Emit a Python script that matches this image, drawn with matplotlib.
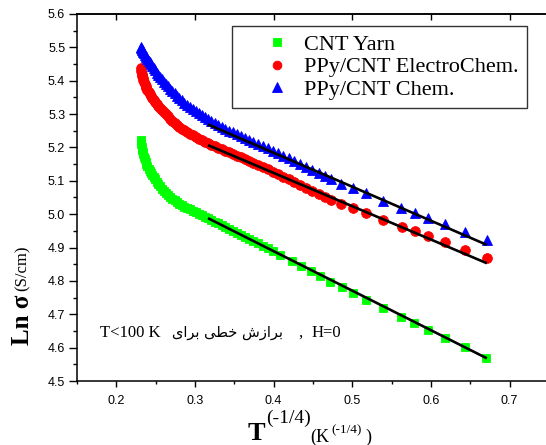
import matplotlib
matplotlib.use('Agg')
import matplotlib.pyplot as plt
from matplotlib.ticker import MultipleLocator, FormatStrFormatter
from matplotlib.font_manager import FontProperties

# ---------------- data ----------------
cnt_x = [0.2310, 0.2315, 0.2320, 0.2326, 0.2333, 0.2341, 0.2350, 0.2360, 0.2371,
         0.2383, 0.2396, 0.2410, 0.2425, 0.2441, 0.2458, 0.2476, 0.2495, 0.2515,
         0.2536, 0.2558, 0.2581, 0.2605, 0.2630, 0.2656, 0.2683, 0.2711, 0.2740,
         0.2770, 0.2801, 0.2833, 0.2866, 0.2900, 0.2935, 0.2971, 0.3008, 0.3046,
         0.3085, 0.3125, 0.3166, 0.3208, 0.3251, 0.3295, 0.3340, 0.3386, 0.3433,
         0.3481, 0.3530, 0.3580, 0.3632, 0.3686, 0.3742, 0.3800, 0.3860, 0.3922,
         0.3986, 0.4080, 0.4230, 0.4350, 0.4480, 0.4590, 0.4710, 0.4870, 0.5010,
         0.5180, 0.5390, 0.5620, 0.5790, 0.5960, 0.6180, 0.6430, 0.6700]
cnt_y = [5.222, 5.211, 5.201, 5.193, 5.186, 5.179, 5.172, 5.164, 5.157,
         5.150, 5.143, 5.136, 5.129, 5.122, 5.116, 5.110, 5.104, 5.097,
         5.090, 5.083, 5.076, 5.070, 5.064, 5.058, 5.052, 5.047, 5.042,
         5.037, 5.032, 5.027, 5.023, 5.019, 5.015, 5.011, 5.006, 5.002,
         4.997, 4.993, 4.988, 4.983, 4.978, 4.973, 4.968, 4.962, 4.957,
         4.951, 4.945, 4.939, 4.933, 4.926, 4.920, 4.913, 4.906, 4.898,
         4.891, 4.878, 4.860, 4.845, 4.829, 4.814, 4.798, 4.781, 4.763,
         4.743, 4.720, 4.693, 4.673, 4.653, 4.630, 4.603, 4.568]

ec_x = [0.2310, 0.2315, 0.2320, 0.2326, 0.2333, 0.2341, 0.2350, 0.2360, 0.2371,
        0.2383, 0.2396, 0.2410, 0.2425, 0.2441, 0.2458, 0.2476, 0.2495, 0.2515,
        0.2536, 0.2558, 0.2581, 0.2605, 0.2630, 0.2656, 0.2683, 0.2711, 0.2740,
        0.2770, 0.2801, 0.2833, 0.2866, 0.2900, 0.2935, 0.2971, 0.3008, 0.3046,
        0.3085, 0.3125, 0.3166, 0.3208, 0.3251, 0.3295, 0.3340, 0.3386, 0.3433,
        0.3481, 0.3530, 0.3580, 0.3632, 0.3686, 0.3742, 0.3800, 0.3860, 0.3922,
        0.3986, 0.4052, 0.4120, 0.4190, 0.4262, 0.4336, 0.4412, 0.4490, 0.4570,
        0.4650, 0.4735, 0.4860, 0.5010, 0.5180, 0.5390, 0.5626, 0.5795, 0.5965,
        0.6177, 0.6430, 0.6710]
ec_y = [5.437, 5.428, 5.420, 5.413, 5.407, 5.401, 5.395, 5.389, 5.383,
        5.377, 5.371, 5.365, 5.359, 5.353, 5.347, 5.341, 5.335, 5.329,
        5.323, 5.317, 5.311, 5.305, 5.299, 5.293, 5.286, 5.280, 5.274,
        5.268, 5.262, 5.256, 5.251, 5.246, 5.241, 5.236, 5.231, 5.226,
        5.221, 5.216, 5.212, 5.207, 5.203, 5.198, 5.194, 5.189, 5.185,
        5.180, 5.175, 5.170, 5.165, 5.159, 5.153, 5.147, 5.141, 5.134,
        5.127, 5.120, 5.112, 5.104, 5.096, 5.088, 5.079, 5.070, 5.060,
        5.051, 5.042, 5.032, 5.018, 5.003, 4.983, 4.962, 4.950, 4.935,
        4.916, 4.893, 4.870]

ch_x = [0.2310, 0.2315, 0.2320, 0.2326, 0.2333, 0.2341, 0.2350, 0.2360, 0.2371,
        0.2383, 0.2396, 0.2410, 0.2425, 0.2441, 0.2458, 0.2476, 0.2495, 0.2515,
        0.2536, 0.2558, 0.2581, 0.2605, 0.2630, 0.2656, 0.2683, 0.2711, 0.2740,
        0.2770, 0.2801, 0.2833, 0.2866, 0.2900, 0.2935, 0.2971, 0.3008, 0.3046,
        0.3085, 0.3125, 0.3166, 0.3208, 0.3251, 0.3295, 0.3340, 0.3386, 0.3433,
        0.3481, 0.3530, 0.3580, 0.3632, 0.3686, 0.3742, 0.3800, 0.3860, 0.3922,
        0.3986, 0.4052, 0.4120, 0.4190, 0.4262, 0.4336, 0.4412, 0.4490, 0.4570,
        0.4650, 0.4735, 0.4860, 0.5010, 0.5180, 0.5390, 0.5617, 0.5795, 0.5965,
        0.6177, 0.6430, 0.6710]
ch_y = [5.500, 5.497, 5.494, 5.491, 5.488, 5.485, 5.482, 5.478, 5.474,
        5.470, 5.465, 5.460, 5.455, 5.449, 5.443, 5.437, 5.431, 5.424,
        5.418, 5.411, 5.404, 5.397, 5.390, 5.383, 5.376, 5.369, 5.362,
        5.355, 5.348, 5.341, 5.334, 5.327, 5.320, 5.314, 5.308, 5.302,
        5.296, 5.290, 5.284, 5.278, 5.272, 5.266, 5.261, 5.256, 5.250,
        5.245, 5.240, 5.235, 5.229, 5.223, 5.217, 5.211, 5.204, 5.197,
        5.190, 5.183, 5.175, 5.167, 5.159, 5.151, 5.142, 5.133, 5.123,
        5.114, 5.104, 5.090, 5.077, 5.062, 5.040, 5.018, 5.004, 4.990,
        4.970, 4.947, 4.923]

fit_x = [0.3165, 0.671]
cnt_fit = [4.988, 4.568]
ec_fit = [5.207, 4.853]
ch_fit = [5.269, 4.908]

labels = ["CNT Yarn", "PPy/CNT ElectroChem.", "PPy/CNT Chem."]
x_ticks = [0.2, 0.3, 0.4, 0.5, 0.6, 0.7]

# ---------------- figure ----------------
W, H = 546, 445
fig = plt.figure(figsize=(W / 100, H / 100), dpi=100)
ax = fig.add_axes([77 / W, 64 / H, 472 / W, 367 / H])

h1, = ax.plot(cnt_x, cnt_y, ls='none', marker='s', ms=5.8, color='#00ff00',
              mec='#00ff00', mew=0.6, zorder=2)
h2, = ax.plot(ec_x, ec_y, ls='none', marker='o', ms=7.0, color='#ff0000',
              mec='#ff0000', mew=0.6, zorder=2)
h3, = ax.plot(ch_x, ch_y, ls='none', marker='^', ms=7.4, color='#0000ff',
              mec='#0000ff', mew=0.6, zorder=2)

for fyv in (cnt_fit, ec_fit, ch_fit):
    ax.plot(fit_x, fyv, color='black', lw=1.9, zorder=3, solid_capstyle='butt')

ax.set_xlim(0.15, 0.75)
ax.set_ylim(4.5, 5.6)
ax.set_xticks(x_ticks)
ax.xaxis.set_minor_locator(MultipleLocator(0.05))
ax.yaxis.set_major_locator(MultipleLocator(0.1))
ax.yaxis.set_minor_locator(MultipleLocator(0.05))
ax.yaxis.set_major_formatter(FormatStrFormatter('%.1f'))

tick_font = FontProperties(family='Liberation Sans', size=9)
for lab in ax.get_xticklabels() + ax.get_yticklabels():
    lab.set_fontproperties(tick_font)

ax.tick_params(axis='y', which='major', direction='out', length=5.5, width=1,
               pad=3)
ax.tick_params(axis='y', which='minor', direction='out', length=3, width=1)
ax.tick_params(axis='x', which='major', direction='out', length=4, width=1,
               pad=6)
ax.tick_params(axis='x', which='minor', direction='out', length=2.5, width=1)
for sp in ax.spines.values():
    sp.set_linewidth(1.1)
ax.spines['right'].set_visible(False)

# top ticks (inward, majors only)
secx = ax.secondary_xaxis('top')
secx.set_xticks(x_ticks)
secx.tick_params(direction='in', length=4, width=1, labeltop=False)
secx.spines['top'].set_linewidth(1.1)

# legend
leg = ax.legend([h1, h2, h3], labels, loc='upper left',
                bbox_to_anchor=(232 / W, 1 - 26 / H),
                bbox_transform=fig.transFigure, borderaxespad=0,
                prop=FontProperties(family='Liberation Serif', size=16),
                numpoints=1, handlelength=3.3, handletextpad=-0.45,
                borderpad=0.38, labelspacing=0.08, frameon=True,
                fancybox=False, framealpha=1, edgecolor='#333333',
                markerscale=0.9)
leg.get_frame().set_linewidth(1.0)


def fx(px):
    return px / W


def fy(py):
    return 1 - py / H


# annotation
serif = 'Liberation Serif'
fig.text(fx(100), fy(337), 'T<100 K', family=serif, size=12,
         ha='left', va='baseline')
persian = ('\uFBFC\uFE8D\uFEAE\uFE91 \uFBFD\uFEC4\uFEA7 '
           '\uFEB5\uFEAF\uFE8D\uFEAE\uFE91')
fig.text(fx(228), fy(337), persian, family=['DejaVu Sans'], size=10.5,
         ha='center', va='baseline')
fig.text(fx(298), fy(337), ',', family=serif, size=12, ha='left',
         va='baseline')
fig.text(fx(312), fy(337), 'H=0', family=serif, size=12, ha='left',
         va='baseline')

# x label pieces
fig.text(fx(248), fy(440), 'T', family=serif, weight='bold', size=19,
         ha='left', va='baseline')
fig.text(fx(266), fy(423), '(-1/4)', family=serif, size=14,
         ha='left', va='baseline')
fig.text(fx(310), fy(442), '(K', family=serif, size=13,
         ha='left', va='baseline')
fig.text(fx(331), fy(433), '(-1/4)', family=serif, size=9.5,
         ha='left', va='baseline')
fig.text(fx(365), fy(442), ')', family=serif, size=13,
         ha='left', va='baseline')

# y label pieces
fig.text(fx(29), fy(345), 'Ln \u03c3', family=serif, weight='bold', size=18,
         rotation=90, rotation_mode='anchor', ha='left', va='baseline')
fig.text(fx(27), fy(291), '(S/cm)', family=serif, size=12,
         rotation=90, rotation_mode='anchor', ha='left', va='baseline')

fig.savefig('out.png', dpi=100)
